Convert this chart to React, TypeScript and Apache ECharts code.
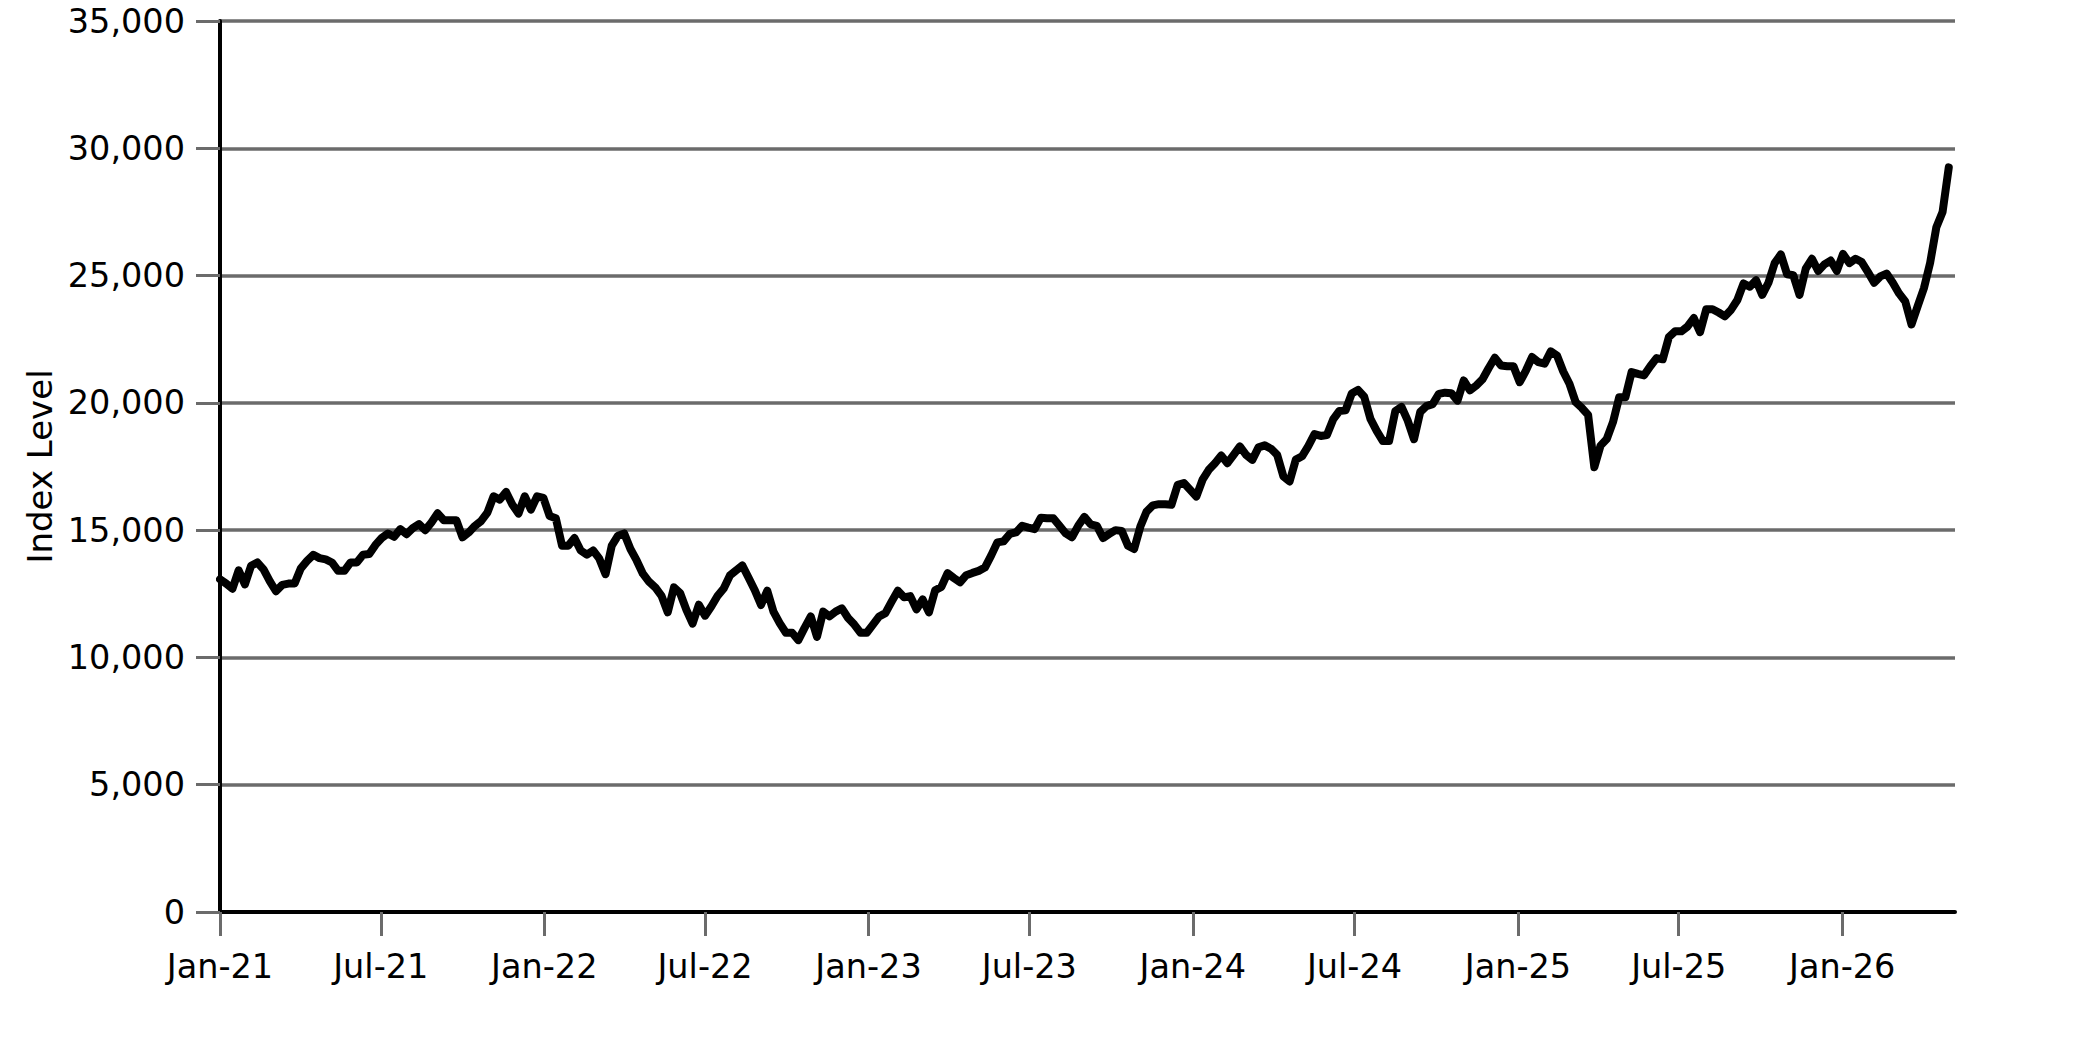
import React, { useEffect, useRef } from "react";
import * as echarts from "echarts";

// Weekly observations, first one on 2021-01-01, one every 7 days
const START_DATE = "2021-01-01";
const WEEK_DAYS = 7;

const INDEX_VALUES = [
  13070, 12900, 12700, 13420, 12870, 13600, 13730, 13460, 13000, 12600,
  12850, 12900, 12900, 13500, 13790, 14030, 13900, 13850, 13730, 13400,
  13400, 13730, 13730, 14030, 14060, 14420, 14690, 14870, 14740, 15040,
  14840, 15080, 15240, 15000, 15300, 15660, 15390, 15390, 15390, 14720,
  14910, 15170, 15360, 15690, 16330, 16200, 16500, 16010, 15650, 16330,
  15810, 16330, 16270, 15560, 15470, 14390, 14390, 14690, 14200, 14040,
  14200, 13880, 13270, 14390, 14780, 14870, 14260, 13810, 13290, 12970,
  12750, 12420, 11770, 12750, 12520, 11870, 11330, 12070, 11640, 12000,
  12410, 12710, 13220, 13420, 13610, 13130, 12640, 12060, 12620, 11800,
  11350, 10970, 10970, 10680, 11160, 11610, 10810, 11800, 11610, 11800,
  11930, 11550, 11290, 10970, 10970, 11290, 11610, 11740, 12190, 12620,
  12360, 12410, 11890, 12280, 11770, 12640, 12770, 13310, 13120, 12950,
  13230, 13320, 13400, 13530, 14000, 14520, 14560, 14850, 14910, 15170,
  15100, 15040, 15490, 15470, 15470, 15170, 14870, 14720, 15170, 15520,
  15230, 15170, 14690, 14850, 15000, 14970, 14390, 14260, 15140, 15730,
  15970, 16020, 16020, 16000, 16780, 16850, 16590, 16320, 16980, 17370,
  17630, 17930, 17630, 17960, 18290, 17960, 17760, 18250, 18330, 18200,
  17960, 17110, 16910, 17770, 17900, 18300, 18770, 18700, 18740, 19350,
  19680, 19710, 20370, 20510, 20240, 19370, 18900, 18500, 18500, 19680,
  19840, 19300, 18570, 19640, 19870, 19950, 20350, 20400, 20380, 20090,
  20880, 20490, 20680, 20920, 21360, 21770, 21470, 21440, 21440, 20810,
  21270, 21800, 21600, 21540, 22020, 21860, 21230, 20750, 20030, 19800,
  19530, 17470, 18320, 18580, 19240, 20220, 20220, 21210, 21140, 21080,
  21440, 21760, 21710, 22590, 22810, 22810, 23000, 23330, 22780, 23680,
  23680, 23550, 23400, 23660, 24040, 24690, 24560, 24820, 24240, 24720,
  25490, 25830, 25050, 25010, 24240, 25270, 25660, 25180, 25440, 25590,
  25180, 25850, 25490, 25660, 25530, 25140, 24720, 24970, 25080, 24720,
  24300, 23980, 23080, 23800, 24500, 25500, 26900, 27500, 29250,
];

const TICK_DATES = [
  "2021-01-01", "2021-07-01", "2022-01-01", "2022-07-01", "2023-01-01", "2023-07-01",
  "2024-01-01", "2024-07-01", "2025-01-01", "2025-07-01", "2026-01-01",
];
const TICK_LABELS = [
  "Jan-21", "Jul-21", "Jan-22", "Jul-22", "Jan-23", "Jul-23",
  "Jan-24", "Jul-24", "Jan-25", "Jul-25", "Jan-26",
];
const X_END = "2026-05-08";

const Y_MIN = 0;
const Y_MAX = 35000;
const Y_STEP = 5000;
const Y_NAME = "Index Level";

function toTs(s: string): number {
  const [y, m, d] = s.split("-").map(Number);
  return Date.UTC(y, m - 1, d);
}

export default function App() {
  const ref = useRef<HTMLDivElement>(null);

  useEffect(() => {
    document.body.style.margin = "0";
    document.body.style.overflow = "hidden";
    const chart = echarts.init(ref.current!, null, { renderer: "svg" });
    const [sy, sm, sd] = START_DATE.split("-").map(Number);
    const data = INDEX_VALUES.map((v, i) => [
      Date.UTC(sy, sm - 1, sd + WEEK_DAYS * i),
      v,
    ]);
    const tickTs = TICK_DATES.map(toTs);
    const font = "DejaVu Sans";

    chart.setOption({
      animation: false,
      backgroundColor: "#ffffff",
      grid: { left: 220, right: 128, top: 21, bottom: 130, containLabel: false },
      xAxis: {
        type: "value",
        min: toTs(START_DATE),
        max: toTs(X_END),
        axisLine: { show: true, lineStyle: { color: "#000", width: 4 } },
        axisTick: {
          show: true,
          customValues: tickTs,
          length: 24,
          lineStyle: { color: "#6b6b6b", width: 3 },
        },
        axisLabel: {
          customValues: tickTs,
          showMinLabel: true,
          showMaxLabel: true,
          margin: 37,
          fontFamily: font,
          fontSize: 33.5,
          color: "#000",
          formatter: (val: number) => {
            let best = 0;
            for (let k = 1; k < tickTs.length; k++) {
              if (Math.abs(tickTs[k] - val) < Math.abs(tickTs[best] - val)) best = k;
            }
            return TICK_LABELS[best];
          },
        },
        splitLine: { show: false },
      },
      yAxis: {
        type: "value",
        min: Y_MIN,
        max: Y_MAX,
        interval: Y_STEP,
        name: Y_NAME,
        nameLocation: "middle",
        nameRotate: 90,
        nameGap: 162,
        nameTextStyle: { fontFamily: font, fontSize: 34, color: "#000" },
        axisLine: { show: true, lineStyle: { color: "#000", width: 4 } },
        axisTick: { show: true, length: 24, lineStyle: { color: "#6b6b6b", width: 3 } },
        axisLabel: {
          margin: 35,
          fontFamily: font,
          fontSize: 33.5,
          color: "#000",
          padding: [18, 0, 0, 0],
          formatter: (v: number) => v.toLocaleString("en-US"),
        },
        splitLine: { show: true, lineStyle: { color: "#6b6b6b", width: 3.5 } },
      },
      series: [
        {
          type: "line",
          data,
          showSymbol: false,
          symbol: "none",
          lineStyle: { color: "#000", width: 8, cap: "round", join: "round" },
          z: 5,
        },
      ],
    });
    return () => chart.dispose();
  }, []);

  return <div ref={ref} style={{ width: 2083, height: 1042 }} />;
}
